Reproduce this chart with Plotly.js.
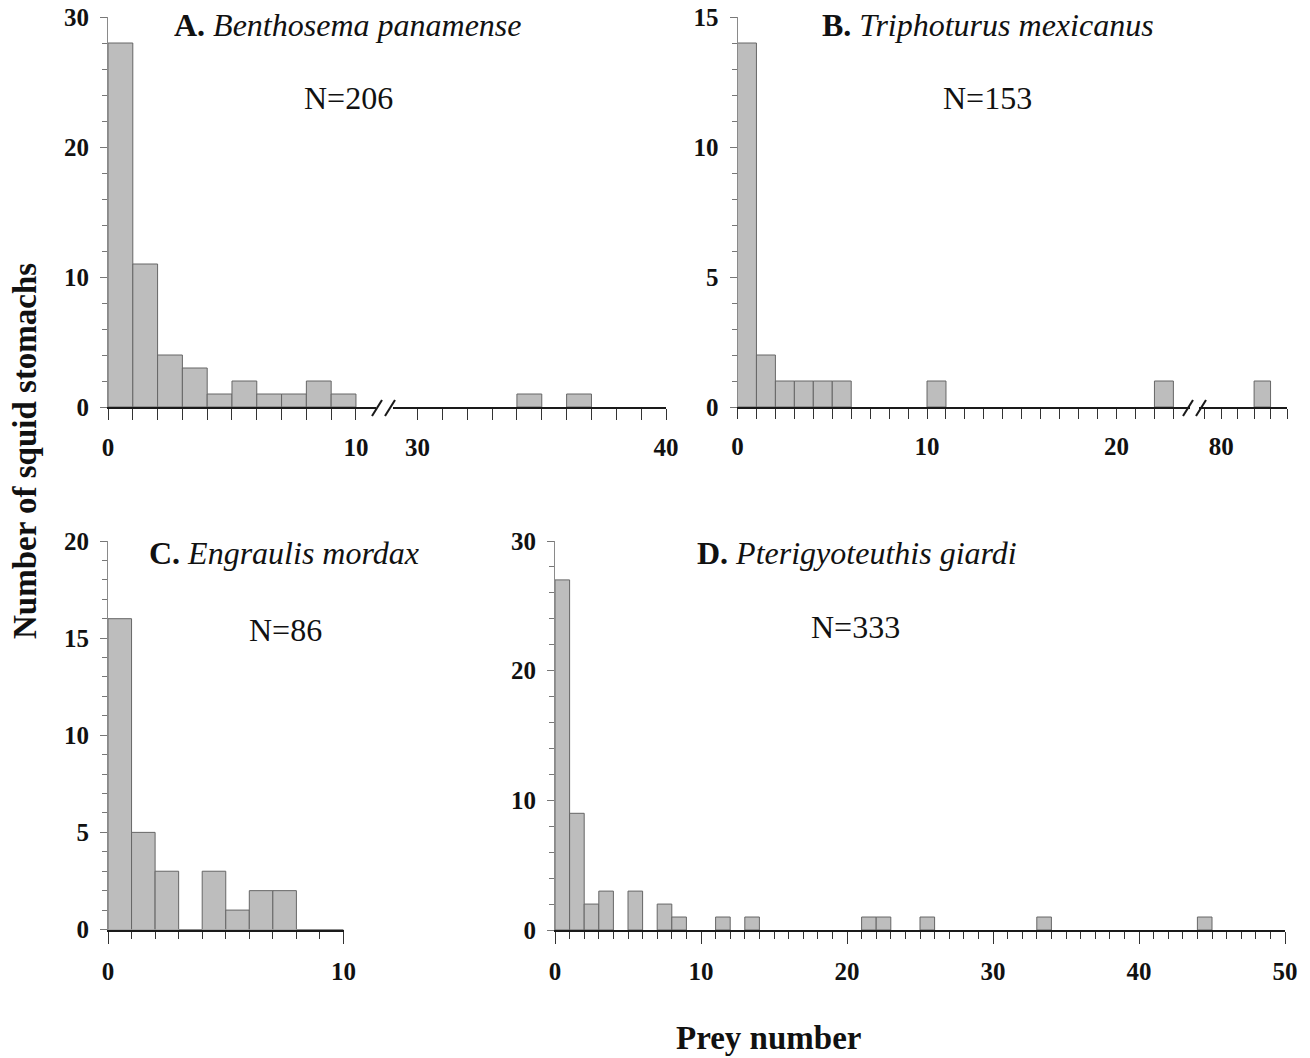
<!DOCTYPE html>
<html>
<head>
<meta charset="utf-8">
<script src="https://cdn.plot.ly/plotly-3.0.1.min.js"></script>
<style>html,body{margin:0;padding:0;background:#fff;}#chart{width:1310px;height:1058px;}</style>
</head>
<body>
<div id="chart"></div>
<script>
// ---- Data (bin start = prey number - 1; each bin is 1 wide) ----
const aLeftBins   = [0, 1, 2, 3, 4, 5, 6, 7, 8, 9];
const aLeftCounts = [28, 11, 4, 3, 1, 2, 1, 1, 2, 1];
const aRightBins   = [34, 36];
const aRightCounts = [1, 1];

const bLeftBins   = [0, 1, 2, 3, 4, 5, 10, 22];
const bLeftCounts = [14, 2, 1, 1, 1, 1, 1, 1];
const bRightBins   = [82];
const bRightCounts = [1];

const cBins   = [0, 1, 2, 3, 4, 5, 6, 7, 8, 9];
const cCounts = [16, 5, 3, 0, 3, 1, 2, 2, 0, 0];

const dBins   = [0, 1, 2, 3, 5, 7, 8, 11, 13, 21, 22, 25, 33, 44];
const dCounts = [27, 9, 2, 3, 3, 2, 1, 1, 1, 1, 1, 1, 1, 1];

const panelTitles = ['<b>A.</b> <i>Benthosema panamense</i>', '<b>B.</b> <i>Triphoturus mexicanus</i>',
                     '<b>C.</b> <i>Engraulis mordax</i>', '<b>D.</b> <i>Pterigyoteuthis giardi</i>'];
const panelN = ['N=206', 'N=153', 'N=86', 'N=333'];
const yTitle = 'Number of squid stomachs';
const xTitle = 'Prey number';

// ---- Layout helpers ----
const W = 1310, H = 1058;
const fx = v => v / W;
const fy = v => 1 - v / H;
const FONT = 'Liberation Serif, Times New Roman, serif';
const FILL = '#bdbdbd', EDGE = '#666666';

function barTrace(x, y, xa, ya) {
  return {type: 'bar', x: x, y: y, width: 1, offset: 0, xaxis: xa, yaxis: ya,
          marker: {color: FILL, line: {color: EDGE, width: 1}}, hoverinfo: 'skip'};
}

const tickFont = {family: FONT, size: 25, color: '#111', weight: 'bold'};

function xAxis(dom, range, tickvals, anchor, majLen, minLen) {
  return {domain: [fx(dom[0]), fx(dom[1])], range: range, anchor: anchor,
          showgrid: false, zeroline: false, showline: true, linecolor: '#1a1a1a', linewidth: 2,
          tickmode: 'array', tickvals: tickvals, ticks: 'outside', ticklen: majLen, tickwidth: 1, tickcolor: '#333',
          minor: {tickmode: 'linear', tick0: 0, dtick: 1, ticks: 'outside', ticklen: minLen, tickwidth: 1, tickcolor: '#333', showgrid: false},
          tickfont: tickFont, ticklabelstandoff: 6, fixedrange: true};
}
function yAxis(dom, range, tickvals, minorD, anchor) {
  return {domain: [fy(dom[0]), fy(dom[1])], range: range, anchor: anchor,
          showgrid: false, zeroline: false, showline: true, linecolor: '#8a8a8a', linewidth: 1,
          tickmode: 'array', tickvals: tickvals, ticks: 'outside', ticklen: 7, tickwidth: 1, tickcolor: '#777',
          minor: {tickmode: 'linear', tick0: 0, dtick: minorD, ticks: 'outside', ticklen: 5, tickwidth: 1, tickcolor: '#777', showgrid: false},
          tickfont: tickFont, ticklabelstandoff: 6, fixedrange: true};
}

const data = [
  barTrace(aLeftBins, aLeftCounts, 'x', 'y'),
  barTrace(aRightBins, aRightCounts, 'x2', 'y'),
  barTrace(bLeftBins, bLeftCounts, 'x3', 'y2'),
  barTrace(bRightBins, bRightCounts, 'x4', 'y2'),
  barTrace(cBins, cCounts, 'x5', 'y3'),
  barTrace(dBins, dCounts, 'x6', 'y4')
];

function slash(xc, yc) {
  return {type: 'line', xref: 'paper', yref: 'paper',
          x0: fx(xc - 5), y0: fy(yc + 8), x1: fx(xc + 5), y1: fy(yc - 8),
          line: {color: '#1a1a1a', width: 2}};
}

function ann(text, xc, yc, size, extra) {
  return Object.assign({text: text, x: fx(xc), y: fy(yc), xref: 'paper', yref: 'paper',
          xanchor: 'center', yanchor: 'middle', showarrow: false,
          font: {family: FONT, size: size, color: '#111'}}, extra || {});
}

const layout = {
  width: W, height: H, margin: {l: 0, r: 0, t: 0, b: 0, pad: 0},
  paper_bgcolor: '#fff', plot_bgcolor: 'rgba(0,0,0,0)',
  showlegend: false, bargap: 0, barmode: 'overlay', hovermode: false,
  xaxis:  xAxis([108, 375.8], [0, 10.8], [0, 10], 'y', 11, 11),
  xaxis2: xAxis([393.2, 666], [29.02, 40], [30, 40], 'y', 11, 11),
  yaxis:  yAxis([407, 17], [0, 30], [0, 10, 20, 30], 2, 'x'),
  xaxis3: xAxis([737.5, 1189.5], [0, 23.85], [0, 10, 20], 'y2', 10, 10),
  xaxis4: xAxis([1199, 1287], [78.65, 84], [80], 'y2', 10, 10),
  yaxis2: yAxis([407, 17], [0, 15], [0, 5, 10, 15], 1, 'x3'),
  xaxis5: xAxis([108, 343.5], [0, 10], [0, 10], 'y3', 12, 7),
  yaxis3: yAxis([929.5, 541], [0, 20], [0, 5, 10, 15, 20], 1, 'x5'),
  xaxis6: xAxis([555, 1285], [0, 50], [0, 10, 20, 30, 40, 50], 'y4', 12, 7),
  yaxis4: yAxis([930, 541], [0, 30], [0, 10, 20, 30], 2, 'x6'),
  shapes: [slash(377, 408), slash(390, 408), slash(1188, 408), slash(1201, 408)],
  annotations: [
    ann(panelTitles[0], 347, 25, 32),
    ann(panelTitles[1], 988, 25, 32),
    ann(panelTitles[2], 284, 553, 32),
    ann(panelTitles[3], 857, 553, 32),
    ann(panelN[0], 348, 98, 32),
    ann(panelN[1], 987, 98, 32),
    ann(panelN[2], 285, 630, 32),
    ann(panelN[3], 856, 627, 32),
    ann('<b>' + yTitle + '</b>', 25, 451, 33, {textangle: -90}),
    ann('<b>' + xTitle + '</b>', 768, 1038, 33)
  ]
};

Plotly.newPlot('chart', data, layout, {staticPlot: true, displayModeBar: false});
</script>
</body>
</html>
